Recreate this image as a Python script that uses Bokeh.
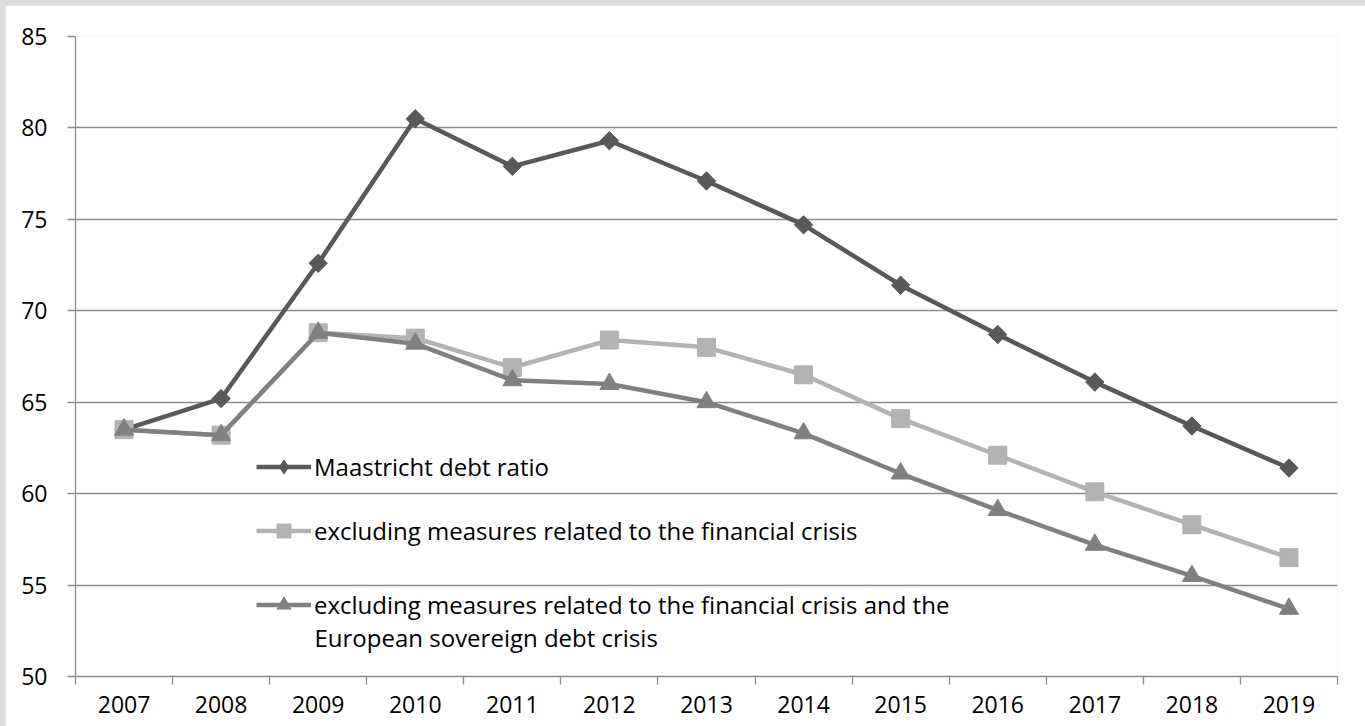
import numpy as np
from bokeh.plotting import figure
from bokeh.models import Legend, LegendItem, FixedTicker, Range1d, Label
from bokeh.embed import file_html
from bokeh.resources import INLINE

years = [2007, 2008, 2009, 2010, 2011, 2012, 2013, 2014, 2015, 2016, 2017, 2018, 2019]
maastricht = [63.5, 65.2, 72.6, 80.5, 77.9, 79.3, 77.1, 74.7, 71.4, 68.7, 66.1, 63.7, 61.4]
excl_financial = [63.5, 63.2, 68.8, 68.5, 66.9, 68.4, 68.0, 66.5, 64.1, 62.1, 60.1, 58.3, 56.5]
excl_both = [63.5, 63.2, 68.8, 68.2, 66.2, 66.0, 65.0, 63.3, 61.1, 59.1, 57.2, 55.5, 53.7]
y_ticks = [50, 55, 60, 65, 70, 75, 80, 85]
labels = [
    "Maastricht debt ratio",
    "excluding measures related to the financial crisis",
    "excluding measures related to the financial crisis and the",
    "European sovereign debt crisis",
]

FONT = "Open Sans"
GRID = "#8c8c8c"
PAGE = "#dcdddf"

p = figure(width=1360, height=721, output_backend="svg", toolbar_location=None,
           x_range=Range1d(years[0] - 0.5, years[-1] + 0.5), y_range=Range1d(50, 85),
           min_border_left=70, min_border_right=28, min_border_top=31, min_border_bottom=50)
p.outline_line_color = None
p.background_fill_color = "white"
p.border_fill_color = "white"

p.xgrid.grid_line_color = None
p.ygrid.grid_line_color = GRID
p.ygrid.grid_line_width = 1.3

p.yaxis.ticker = FixedTicker(ticks=y_ticks)
p.xaxis.ticker = FixedTicker(ticks=years, minor_ticks=[y - 0.5 for y in years] + [years[-1] + 0.5])
for ax in (p.xaxis[0], p.yaxis[0]):
    ax.axis_line_color = GRID
    ax.axis_line_width = 1.3
    ax.major_tick_line_color = GRID
    ax.minor_tick_line_color = GRID
    ax.major_tick_line_width = 1.3
    ax.minor_tick_line_width = 1.3
    ax.major_label_text_font = FONT
    ax.major_label_text_font_size = "23px"
    ax.major_label_text_color = "black"
p.yaxis.major_tick_out = 8
p.yaxis.major_tick_in = 0
p.yaxis.minor_tick_out = 0
p.yaxis.minor_tick_in = 0
p.yaxis.major_label_standoff = 20
p.xaxis.major_tick_out = 0
p.xaxis.major_tick_in = 0
p.xaxis.minor_tick_out = 8
p.xaxis.minor_tick_in = 0
p.xaxis.major_label_standoff = 11

c1, c2, c3 = "#595959", "#b3b3b3", "#808080"
l1 = p.line(years, maastricht, line_color=c1, line_width=4.5)
s1 = p.scatter(years, maastricht, marker="square", angle=np.pi / 4, size=13, fill_color=c1, line_color=c1)
s1_leg = p.scatter(years, maastricht, marker="diamond", size=13, fill_color=c1, line_color=c1, visible=False)
l2 = p.line(years, excl_financial, line_color=c2, line_width=4.5)
s2 = p.scatter(years, excl_financial, marker="square", size=18, fill_color=c2, line_color=c2)
l3 = p.line(years, excl_both, line_color=c3, line_width=4.5)
s3 = p.scatter(years, excl_both, marker="triangle", size=19, fill_color=c3, line_color=c3)


def style_legend(lg):
    lg.background_fill_alpha = 0
    lg.border_line_color = None
    lg.padding = 0
    lg.margin = 0
    lg.spacing = 29
    lg.glyph_width = 55
    lg.glyph_height = 35
    lg.label_height = 20
    lg.label_standoff = 3
    lg.label_text_font = FONT
    lg.label_text_font_size = "24px"
    lg.label_text_color = "black"


legend_a = Legend(items=[
    LegendItem(label=labels[0], renderers=[l1, s1_leg]),
    LegendItem(label=labels[1], renderers=[l2, s2]),
], location=(181, 128))
style_legend(legend_a)
p.add_layout(legend_a, "center")

legend_b = Legend(items=[LegendItem(label=labels[2], renderers=[l3, s3])], location=(181, 54))
style_legend(legend_b)
p.add_layout(legend_b, "center")

second_line = Label(x=239, y=39, x_units="screen", y_units="screen", text=labels[3],
                    text_font=FONT, text_font_size="24px", text_color="black",
                    text_baseline="middle", text_align="left")
p.add_layout(second_line)

html = file_html(p, INLINE)
# style the real <body> tag (the last one; the inline BokehJS bundle may contain the text too)
idx = html.rfind("<body>")
if idx != -1:
    html = (html[:idx]
            + '<body style="margin:0;padding:5px 0 0 5px;box-sizing:border-box;overflow:hidden;background:'
            + PAGE + ';">'
            + html[idx + len("<body>"):])
open("out.html", "w").write(html)
